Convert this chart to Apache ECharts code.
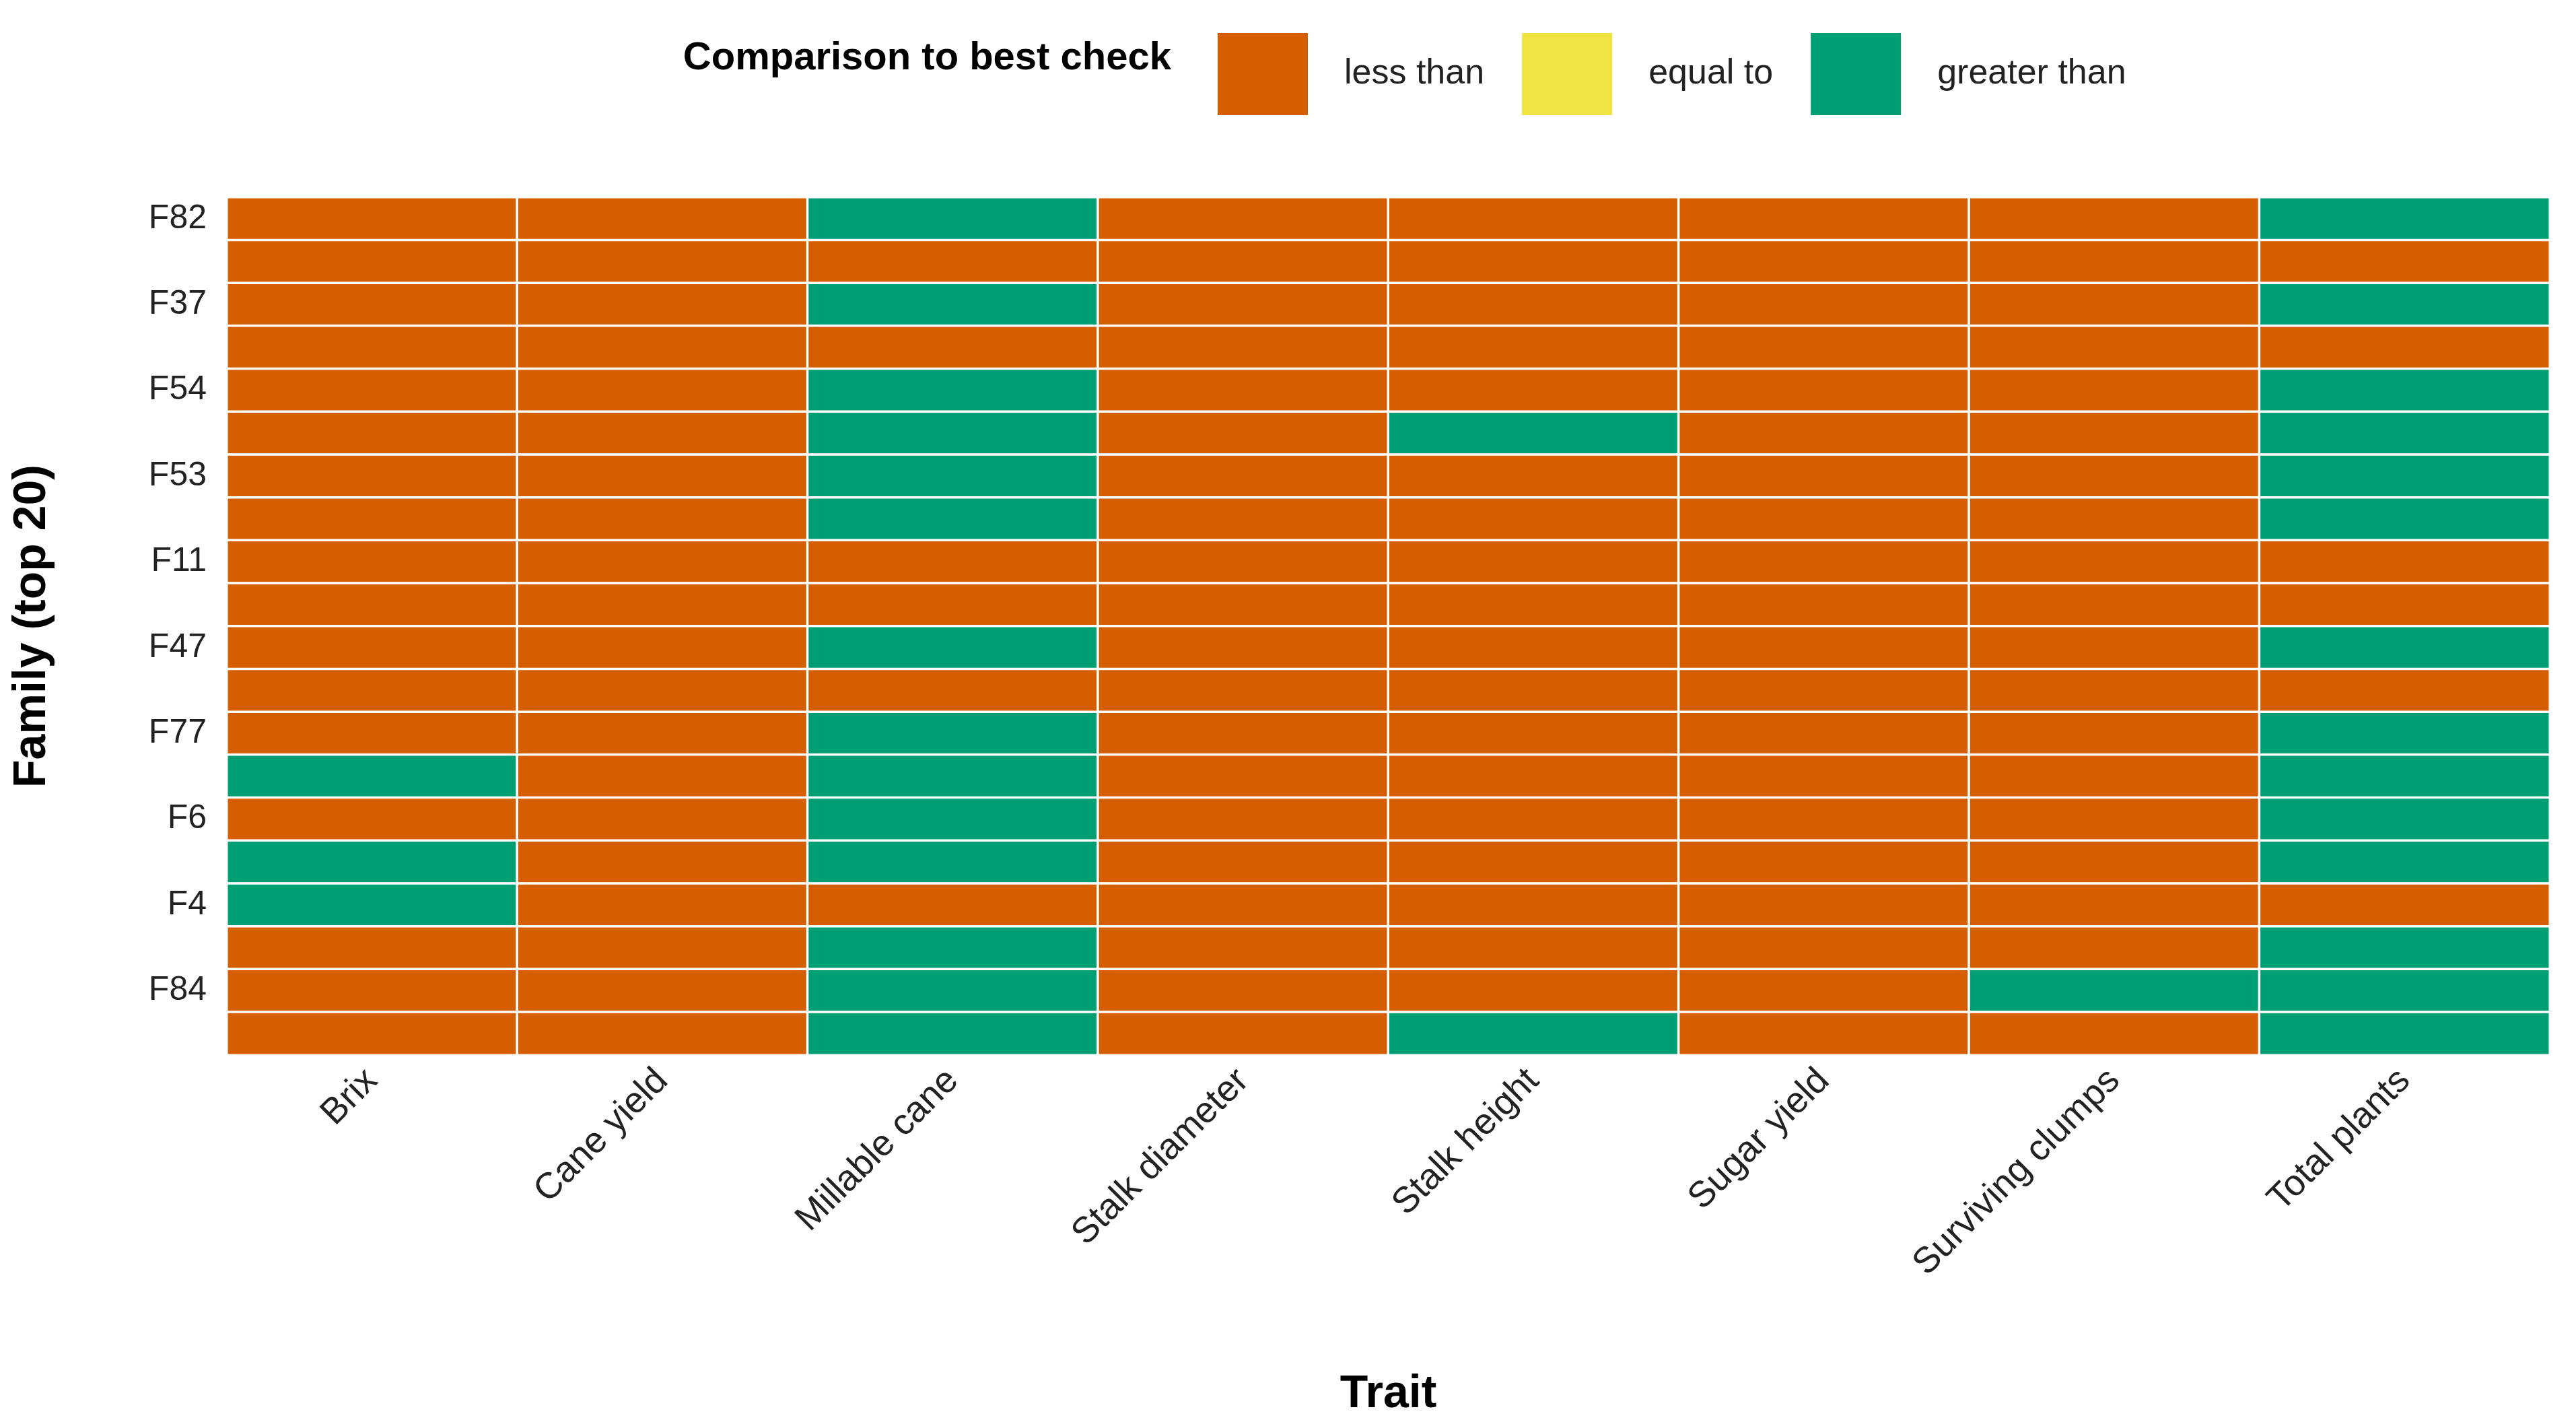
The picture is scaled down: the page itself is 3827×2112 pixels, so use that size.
<!DOCTYPE html>
<html>
<head>
<meta charset="utf-8">
<script src="https://cdn.jsdelivr.net/npm/echarts@6/dist/echarts.min.js"></script>
<style>html,body{margin:0;background:#fff}#chart{width:3827px;height:2112px}</style>
</head>
<body>
<div id="chart"></div>
<script>
// traits along x, families along y (top to bottom)
const traits = ['Brix', 'Cane yield', 'Millable cane', 'Stalk diameter', 'Stalk height', 'Sugar yield', 'Surviving clumps', 'Total plants']
const families = ['F82', 'F81', 'F37', 'F62', 'F54', 'F32', 'F53', 'F16', 'F11', 'F49', 'F47', 'F3', 'F77', 'F35', 'F6', 'F31', 'F4', 'F71', 'F84', 'F85']

// 1 = greater than, 0 = equal to, -1 = less than (one row per family)
const comparison = [
  [-1, -1, 1, -1, -1, -1, -1, 1],
  [-1, -1, -1, -1, -1, -1, -1, -1],
  [-1, -1, 1, -1, -1, -1, -1, 1],
  [-1, -1, -1, -1, -1, -1, -1, -1],
  [-1, -1, 1, -1, -1, -1, -1, 1],
  [-1, -1, 1, -1, 1, -1, -1, 1],
  [-1, -1, 1, -1, -1, -1, -1, 1],
  [-1, -1, 1, -1, -1, -1, -1, 1],
  [-1, -1, -1, -1, -1, -1, -1, -1],
  [-1, -1, -1, -1, -1, -1, -1, -1],
  [-1, -1, 1, -1, -1, -1, -1, 1],
  [-1, -1, -1, -1, -1, -1, -1, -1],
  [-1, -1, 1, -1, -1, -1, -1, 1],
  [1, -1, 1, -1, -1, -1, -1, 1],
  [-1, -1, 1, -1, -1, -1, -1, 1],
  [1, -1, 1, -1, -1, -1, -1, 1],
  [1, -1, -1, -1, -1, -1, -1, -1],
  [-1, -1, 1, -1, -1, -1, -1, 1],
  [-1, -1, 1, -1, -1, -1, 1, 1],
  [-1, -1, 1, -1, 1, -1, -1, 1]
]

const cells = []
comparison.forEach((row, fi) => row.forEach((v, ti) => cells.push([ti, fi, v])))

const font = 'Liberation Sans, Arial, sans-serif'
const chart = echarts.init(document.getElementById('chart'))
chart.setOption({
  backgroundColor: '#fff',
  textStyle: { fontFamily: font },
  grid: { left: 337, right: 39, top: 293, bottom: 545 },
  graphic: [{
    type: 'text', right: 3827 - 1740, top: 58,
    style: { text: 'Comparison to best check', font: 'bold 58px ' + font, fill: '#000' }
  }],
  visualMap: {
    type: 'piecewise', orient: 'horizontal', left: 1794, top: 34,
    itemWidth: 134, itemHeight: 122, itemGap: 56, textGap: 54, itemSymbol: 'rect',
    textStyle: { fontSize: 52, color: '#222', fontFamily: font },
    dimension: 2, hoverLink: false, selectedMode: false,
    pieces: [
      { value: 1, label: 'greater than', color: '#009E73' },
      { value: 0, label: 'equal to', color: '#F0E442' },
      { value: -1, label: 'less than', color: '#D55E00' }
    ]
  },
  xAxis: {
    type: 'category', data: traits,
    name: 'Trait', nameLocation: 'middle', nameGap: 470,
    nameTextStyle: { fontSize: 68, fontWeight: 'bold', color: '#000' },
    axisLine: { show: false }, axisTick: { show: false }, splitArea: { show: false },
    axisLabel: { rotate: 45, fontSize: 54, color: '#222', margin: 30 }
  },
  yAxis: {
    type: 'category', data: families, inverse: true,
    name: 'Family (top 20)', nameLocation: 'middle', nameGap: 255,
    nameTextStyle: { fontSize: 68, fontWeight: 'bold', color: '#000' },
    axisLine: { show: false }, axisTick: { show: false },
    axisLabel: { fontSize: 50, color: '#222', margin: 30 }
  },
  series: [{
    type: 'heatmap', data: cells,
    itemStyle: { borderColor: '#fff', borderWidth: 3.5 }
  }]
})
</script>
</body>
</html>
